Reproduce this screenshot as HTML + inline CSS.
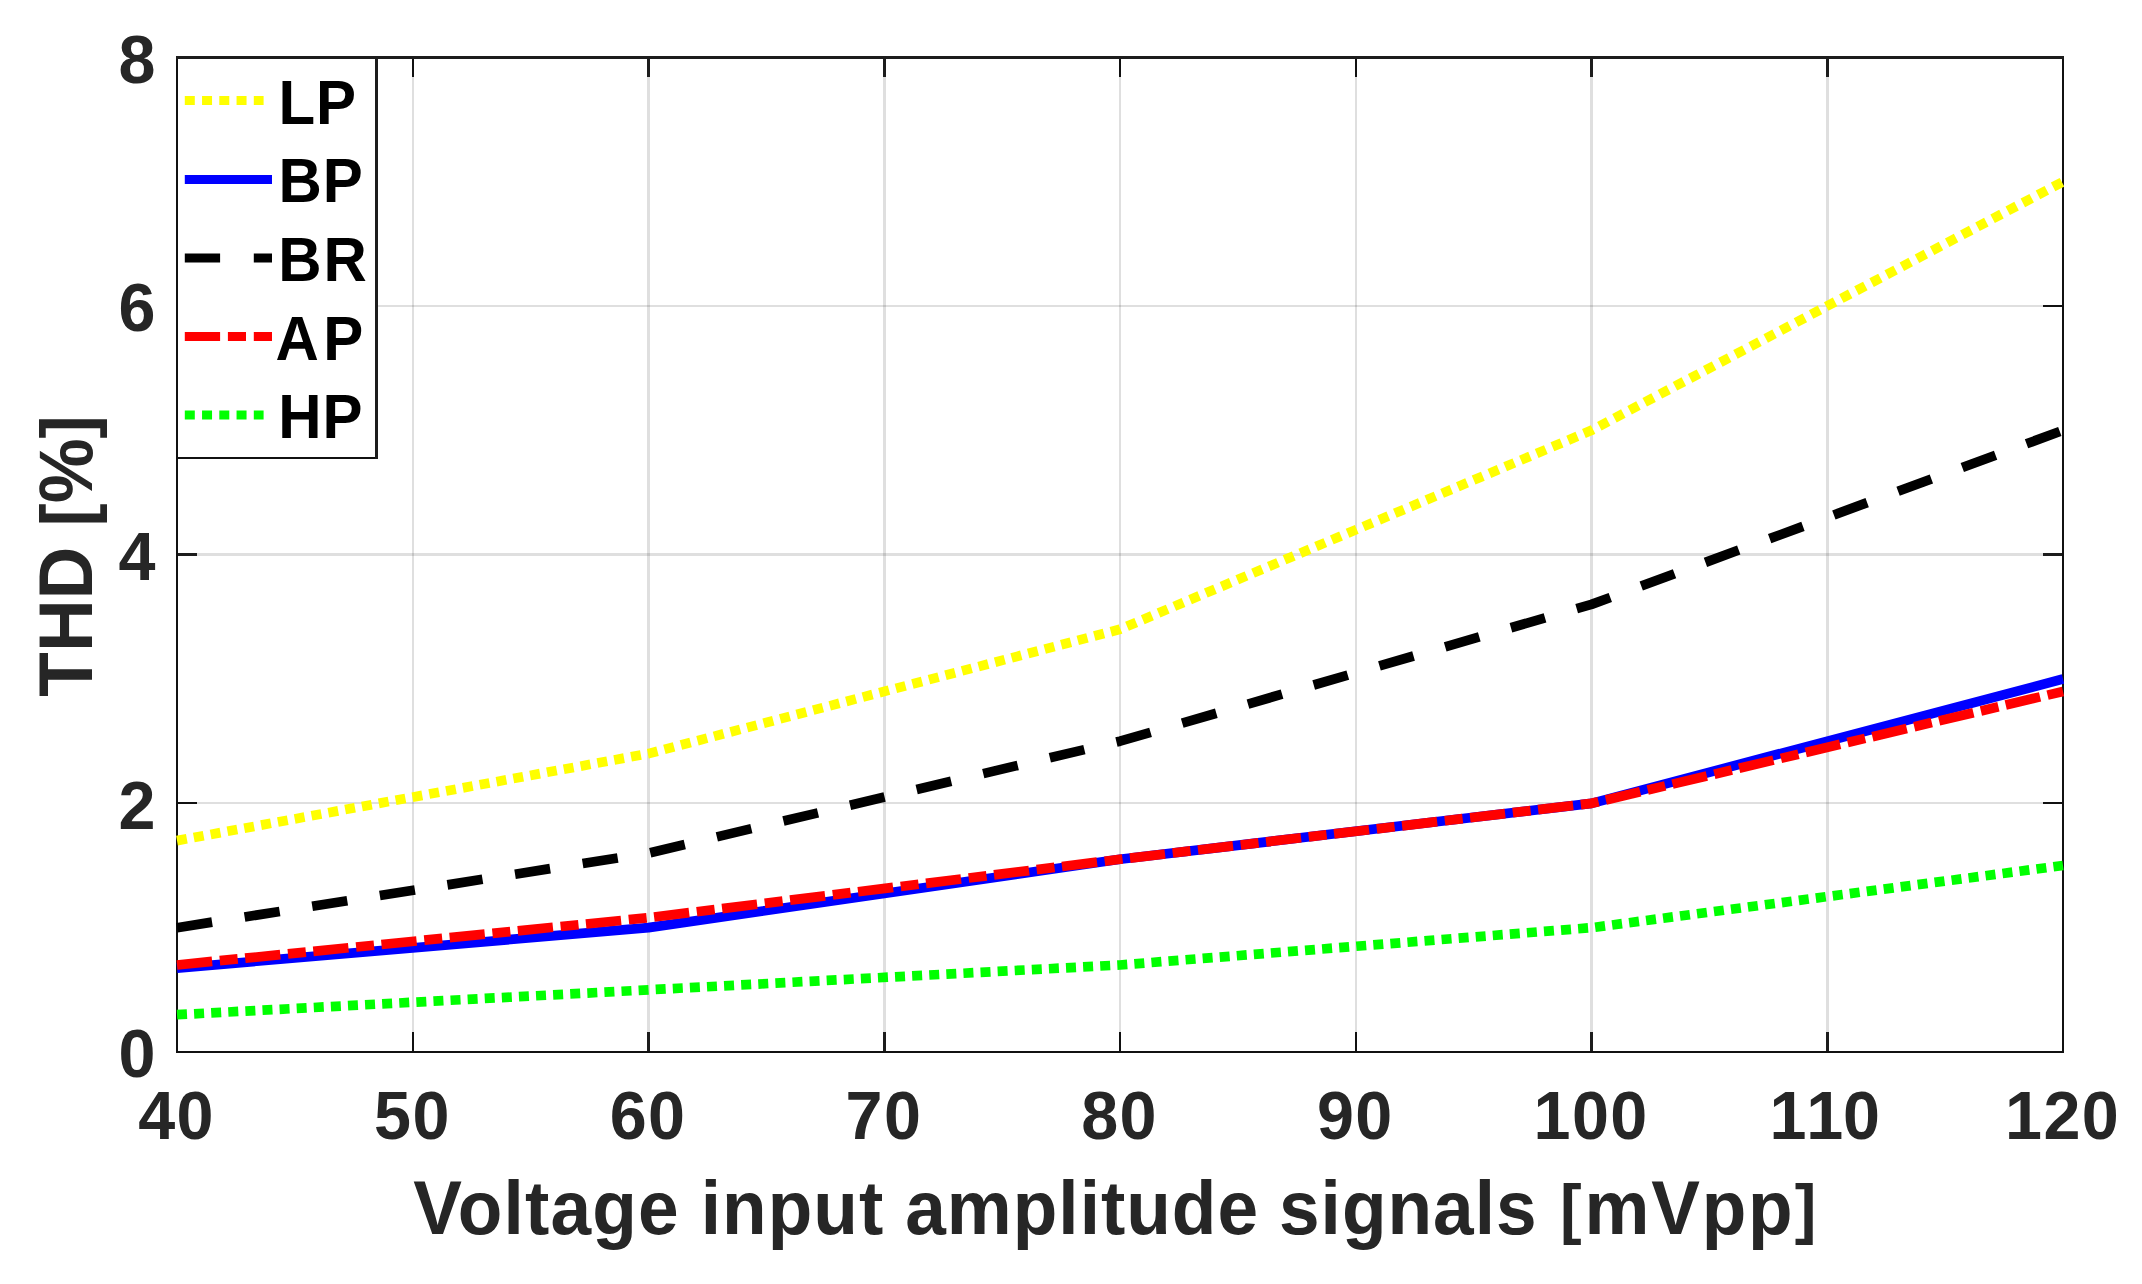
<!DOCTYPE html>
<html lang="en"><head><meta charset="utf-8"><title>THD vs voltage input amplitude</title>
<style>html,body{margin:0;padding:0;background:#fff}body{width:2142px;height:1284px;overflow:hidden}svg{display:block}text{font-family:"Liberation Sans",Arial,Helvetica,sans-serif;font-weight:bold;font-kerning:none}.t{font-size:66.5px;fill:#262626;letter-spacing:1.4px}.l{font-size:73px;fill:#262626}.xl{letter-spacing:1.02px}.g{font-size:60px;fill:#000;letter-spacing:1px}</style></head><body>
<svg width="2142" height="1284" viewBox="0 0 2142 1284">
<rect width="2142" height="1284" fill="#fff"/>
<defs><clipPath id="c"><rect x="176" y="56" width="1888" height="997"/></clipPath></defs>
<path d="M412 59h2v992h-2zM647 59h3v992h-3zM883 59h3v992h-3zM1119 59h2v992h-2zM1355 59h2v992h-2zM1590 59h3v992h-3zM1826 59h3v992h-3z" fill="#262626" fill-opacity="0.15"/><path d="M178 802h1884v2h-1884zM178 553h1884v3h-1884zM178 305h1884v2h-1884z" fill="#262626" fill-opacity="0.15"/>
<path d="M412 1032h2v19h-2zM412 59h2v18h-2zM1119 1032h2v19h-2zM1119 59h2v18h-2zM1355 1032h2v19h-2zM1355 59h2v18h-2zM178 802h19v2h-19zM2043 802h19v2h-19zM178 305h19v2h-19zM2043 305h19v2h-19zM176 59h2v992h-2zM2062 59h2v992h-2zM176 1051h1888v2h-1888z" fill="#111111"/><path d="M647 1032h3v19h-3zM647 59h3v18h-3zM883 1032h3v19h-3zM883 59h3v18h-3zM1590 1032h3v19h-3zM1590 59h3v18h-3zM1826 1032h3v19h-3zM1826 59h3v18h-3zM178 553h19v3h-19zM2043 553h19v3h-19zM176 56h1888v3h-1888z" fill="#1d1d1d"/>
<g clip-path="url(#c)" fill="none" stroke-linejoin="round">
<polyline points="177.00,840.64 648.50,753.61 1120.00,629.27 1591.50,430.34 2063.00,181.68" stroke="#ffff00" stroke-width="9.7" stroke-dasharray="10 7.1"/>
<polyline points="177.00,968.08 648.50,927.67 1120.00,859.29 1591.50,803.34 2063.00,679.01" stroke="#0000ff" stroke-width="9.7"/>
<polyline points="177.00,927.67 648.50,853.07 1120.00,741.17 1591.50,604.41 2063.00,430.34" stroke="#000000" stroke-width="9.7" stroke-dasharray="35.5 32.95"/>
<polyline points="177.00,964.97 648.50,917.72 1120.00,859.29 1591.50,803.34 2063.00,691.44" stroke="#ff0000" stroke-width="9.7" stroke-dasharray="35.3 7.7 18 7.5"/>
<polyline points="177.00,1014.70 648.50,989.83 1120.00,964.97 1591.50,927.67 2063.00,865.50" stroke="#00ff00" stroke-width="9.7" stroke-dasharray="10 7.12"/>
</g>
<rect x="178" y="59" width="197" height="398" fill="#fff"/>
<path d="M176 59h2v400h-2zM176 457h202v2h-202z" fill="#111111"/><path d="M375 56h3v403h-3zM176 56h202v3h-202z" fill="#1d1d1d"/>
<path d="M184.8 100.5H263.6" stroke="#ffff00" stroke-width="9.2" stroke-dasharray="10 7.25" fill="none"/>
<text class="g" style="letter-spacing:1px" transform="translate(278.4 123.8) scale(1 1.045)">LP</text>
<path d="M184.8 179.5H272" stroke="#0000ff" stroke-width="9.2" fill="none"/>
<text class="g" style="letter-spacing:1px" transform="translate(278.4 202.1) scale(1 1.045)">BP</text>
<path d="M184.8 258.0H272" stroke="#000000" stroke-width="9.2" stroke-dasharray="35.3 33.7" fill="none"/>
<text class="g" style="letter-spacing:2px" transform="translate(278.2 280.7) scale(1 1.045)">BR</text>
<path d="M184.8 336.5H272" stroke="#ff0000" stroke-width="9.2" stroke-dasharray="35.3 7.8 18.1 7.8" fill="none"/>
<text class="g" style="letter-spacing:4.2px" transform="translate(275.6 359.6) scale(1 1.045)">AP</text>
<path d="M184.8 415.0H263.6" stroke="#00ff00" stroke-width="9.2" stroke-dasharray="10 7.25" fill="none"/>
<text class="g" style="letter-spacing:1px" transform="translate(278.2 437.7) scale(1 1.045)">HP</text>
<text class="t" transform="translate(176.6 1139.4) scale(1 1.035)" text-anchor="middle">40</text>
<text class="t" transform="translate(412.4 1139.4) scale(1 1.035)" text-anchor="middle">50</text>
<text class="t" transform="translate(648.1 1139.4) scale(1 1.035)" text-anchor="middle">60</text>
<text class="t" transform="translate(883.9 1139.4) scale(1 1.035)" text-anchor="middle">70</text>
<text class="t" transform="translate(1119.6 1139.4) scale(1 1.035)" text-anchor="middle">80</text>
<text class="t" transform="translate(1355.3 1139.4) scale(1 1.035)" text-anchor="middle">90</text>
<text class="t" transform="translate(1591.1 1139.4) scale(1 1.035)" text-anchor="middle">100</text>
<text class="t" style="letter-spacing:-0.2px" transform="translate(1824.7 1139.4) scale(1 1.035)" text-anchor="middle">110</text>
<text class="t" transform="translate(2062.6 1139.4) scale(1 1.035)" text-anchor="middle">120</text>
<text class="t" transform="translate(157 1077.2) scale(1 1.035)" text-anchor="end">0</text>
<text class="t" transform="translate(157 828.5) scale(1 1.035)" text-anchor="end">2</text>
<text class="t" transform="translate(157 579.9) scale(1 1.035)" text-anchor="end">4</text>
<text class="t" transform="translate(157 331.2) scale(1 1.035)" text-anchor="end">6</text>
<text class="t" transform="translate(157 82.6) scale(1 1.035)" text-anchor="end">8</text>
<text class="l" transform="translate(0 1234) scale(1 1.03)"><tspan x="413.2" style="letter-spacing:1.2px;font-kerning:normal">Voltage </tspan><tspan x="700.8" style="letter-spacing:1.02px">input </tspan><tspan x="905.2" style="letter-spacing:1.02px">amplitude </tspan><tspan x="1279.0" style="letter-spacing:1.02px">signals </tspan><tspan x="1560.1" dy="-2.8" font-size="64.9" style="letter-spacing:0px">[</tspan><tspan x="1584.4" dy="2.8" style="letter-spacing:1.85px">mVpp</tspan><tspan x="1794.8" dy="-2.8" font-size="64.9" style="letter-spacing:0px">]</tspan></text>
<text class="l" transform="translate(92 556) rotate(-90) scale(1 1.04)" text-anchor="middle">THD <tspan font-size="69.3">[</tspan>%<tspan font-size="69.3">]</tspan></text>
</svg></body></html>
